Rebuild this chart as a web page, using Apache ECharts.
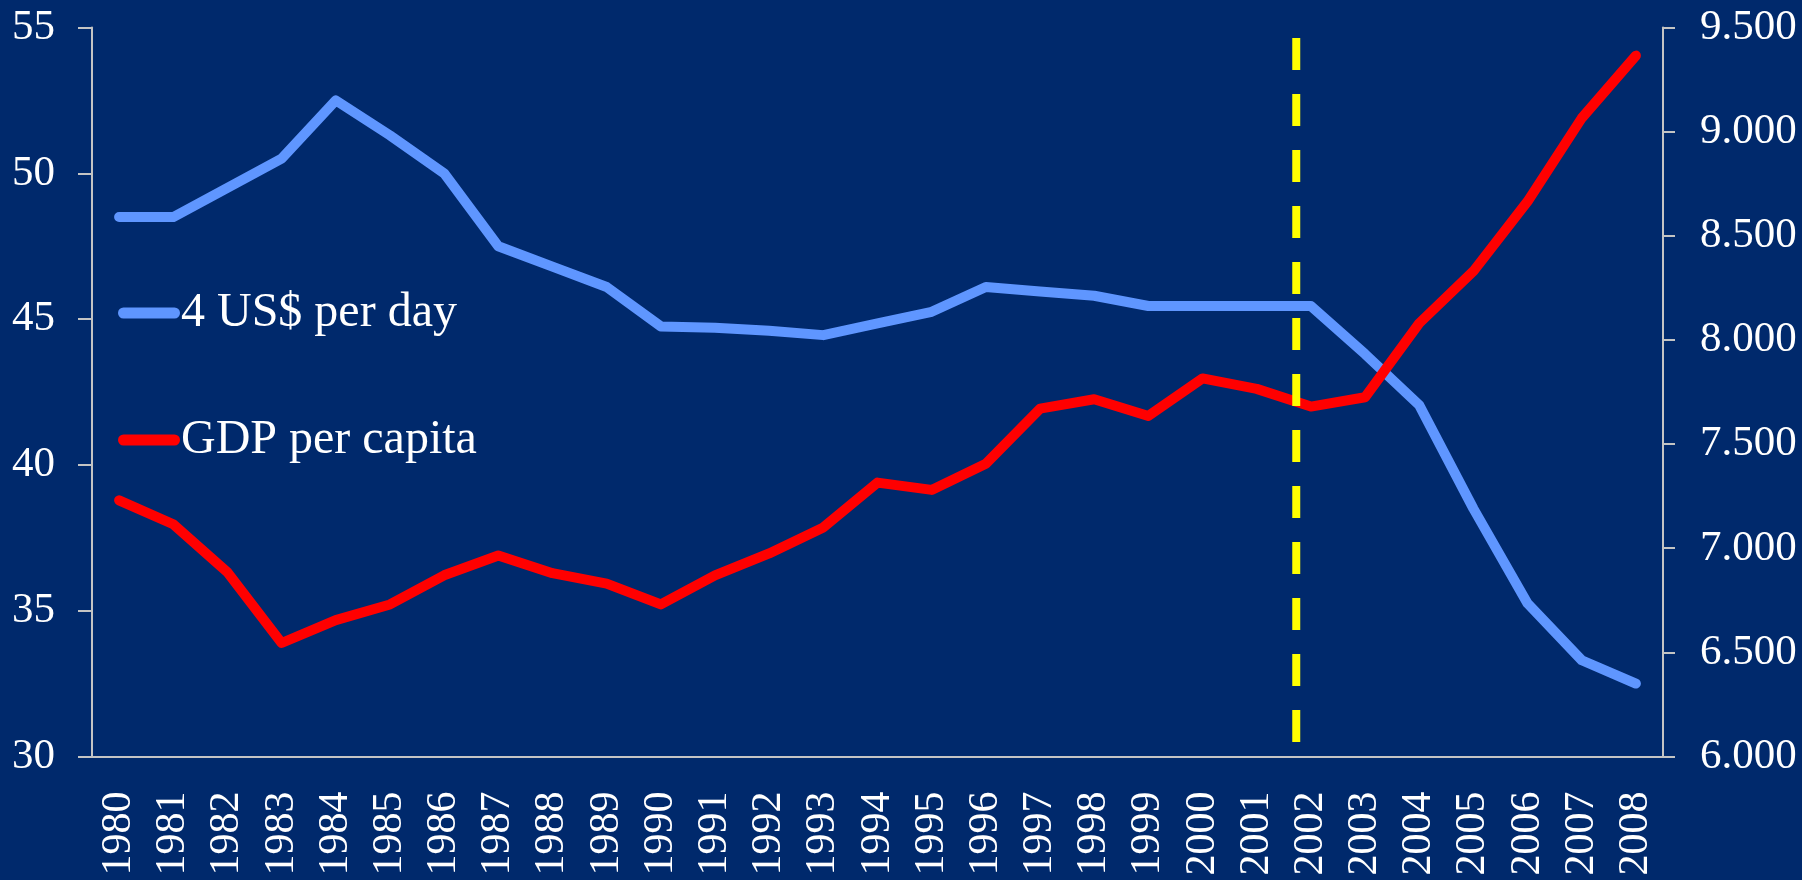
<!DOCTYPE html>
<html>
<head>
<meta charset="utf-8">
<script src="https://cdn.jsdelivr.net/npm/echarts@6/dist/echarts.min.js"></script>
<style>
  html, body { margin: 0; padding: 0; background: #00296C; }
  #chart { width: 1802px; height: 880px; }
</style>
</head>
<body>
<div id="chart"></div>
<script>
const years = ['1980','1981','1982','1983','1984','1985','1986','1987','1988','1989',
  '1990','1991','1992','1993','1994','1995','1996','1997','1998','1999',
  '2000','2001','2002','2003','2004','2005','2006','2007','2008'];
const povertyShare = [48.5, 48.5, 49.5, 50.5, 52.5, 51.3, 50.0, 47.5, 46.8, 46.1,
  44.75, 44.7, 44.6, 44.45, 44.85, 45.25, 46.1, 45.95, 45.8, 45.45,
  45.45, 45.45, 45.45, 43.8, 42.05, 38.5, 35.25, 33.3, 32.5];
const gdpPerCapita = [7230, 7115, 6885, 6545, 6655, 6730, 6870, 6965, 6880, 6830,
  6730, 6870, 6975, 7100, 7315, 7280, 7405, 7670, 7715, 7635,
  7815, 7765, 7680, 7725, 8080, 8330, 8665, 9065, 9365];
const leftTicks = { min: 30, max: 55, interval: 5 };
const rightTicks = { min: 6000, max: 9500, interval: 500 };
const markerYear = 2001.73;
const markerSpan = [54.64, 30.5];
const seriesNames = ['4 US$ per day', 'GDP per capita'];

const chart = echarts.init(document.getElementById('chart'));
const font = 'Liberation Serif, Times New Roman, serif';
const axisColor = '#c4c4c4';
const capsule = 'path://M5.5,0 L56.5,0 A5.5,5.5 0 0 1 56.5,11 L5.5,11 A5.5,5.5 0 0 1 5.5,0 Z';

const legendBase = {
  orient: 'vertical', left: 118, itemWidth: 62, itemHeight: 11, selectedMode: false,
  icon: capsule, itemGap: 0, padding: 0,
  textStyle: { color: '#ffffff', fontFamily: font, fontSize: 48, lineHeight: 48, padding: [0,0,0,-4] }
};

chart.setOption({
  backgroundColor: '#00296C',
  animation: false,
  grid: { left: 92, right: 139, top: 27.5, bottom: 123.5 },
  legend: [
    Object.assign({}, legendBase, { data: [seriesNames[0]], top: 289 }),
    Object.assign({}, legendBase, { data: [seriesNames[1]], top: 416 })
  ],
  xAxis: [{
    type: 'category', data: years, boundaryGap: true,
    axisLine: { lineStyle: { color: axisColor, width: 2 } },
    axisTick: { length: 12, lineStyle: { color: axisColor, width: 2 } },
    axisLabel: { rotate: 90, color: '#ffffff', fontFamily: font, fontSize: 42, margin: 35, interval: 0 },
    splitLine: { show: false }
  }, {
    type: 'value', min: 1979.5, max: 2008.5, show: false, position: 'bottom'
  }],
  yAxis: [{
    type: 'value', min: leftTicks.min, max: leftTicks.max, interval: leftTicks.interval,
    position: 'left',
    axisLine: { show: true, lineStyle: { color: axisColor, width: 2 } },
    axisTick: { show: true, length: 14, lineStyle: { color: axisColor, width: 2 } },
    axisLabel: { color: '#ffffff', fontFamily: font, fontSize: 43, margin: 37 },
    splitLine: { show: false }
  }, {
    type: 'value', min: rightTicks.min, max: rightTicks.max, interval: rightTicks.interval,
    position: 'right',
    axisLine: { show: true, lineStyle: { color: axisColor, width: 2 } },
    axisTick: { show: true, length: 12, lineStyle: { color: axisColor, width: 2 } },
    axisLabel: { color: '#ffffff', fontFamily: font, fontSize: 43, margin: 37,
      formatter: v => (v / 1000).toFixed(3) },
    splitLine: { show: false }
  }],
  series: [{
    name: seriesNames[0], type: 'line', data: povertyShare, xAxisIndex: 0, yAxisIndex: 0,
    showSymbol: false, symbol: 'none', color: '#5F96FF',
    itemStyle: { color: '#5F96FF' },
    lineStyle: { color: '#5F96FF', width: 10, cap: 'round', join: 'round' }
  }, {
    name: seriesNames[1], type: 'line', data: gdpPerCapita, xAxisIndex: 0, yAxisIndex: 1,
    showSymbol: false, symbol: 'none', color: '#FF0000',
    itemStyle: { color: '#FF0000' },
    lineStyle: { color: '#FF0000', width: 10, cap: 'round', join: 'round' }
  }, {
    name: 'marker', type: 'line', xAxisIndex: 1, yAxisIndex: 0,
    data: [[markerYear, markerSpan[0]], [markerYear, markerSpan[1]]],
    showSymbol: false, symbol: 'none', silent: true, z: 5,
    lineStyle: { color: '#FFFF00', width: 8, type: [32, 24], cap: 'butt' }
  }]
});
</script>
</body>
</html>
